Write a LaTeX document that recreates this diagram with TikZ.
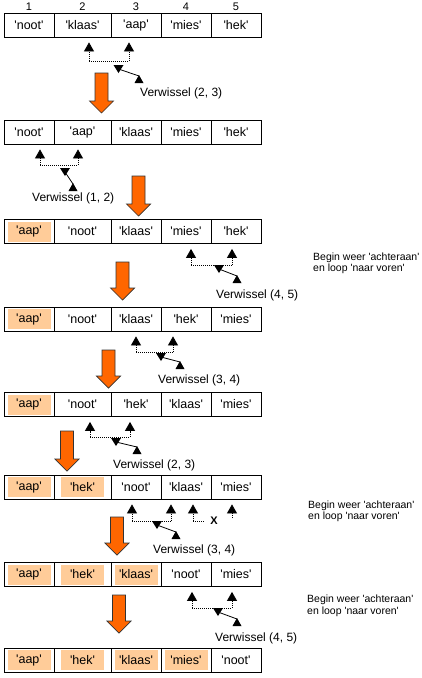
\documentclass[tikz,border=0pt]{standalone}
\usepackage{fontspec}
\setmainfont{Liberation Sans}[Ligatures=TeXOff]
\usetikzlibrary{arrows.meta, positioning}
\usepackage{xcolor}
\definecolor{peach}{RGB}{255,204,153}
\definecolor{swaporange}{RGB}{255,102,0}
\def\cellh{24}
\newcommand{\stepdown}[3]{%
  \draw[down arrow] (#1-6.5,#2) -- (#1+6.5,#2) -- (#1+6.5,#3-12) -- (#1+12,#3-12)
    -- (#1,#3) -- (#1-12,#3-12) -- (#1-6.5,#3-12) -- cycle;}

\begin{document}
\begin{tikzpicture}[x=1pt,y=-1pt]
    \tikzstyle{cell}=[draw=black, line width=0.8pt, minimum height=\cellh, inner sep=0pt, font=\fontsize{12.5}{14}\selectfont]
    \tikzstyle{colnum}=[inner sep=0pt, font=\fontsize{11}{13}\selectfont]
    \tikzstyle{swapline}=[dash pattern=on 1pt off 1pt, line width=0.8pt]
    \tikzstyle{swap tip}=[swapline, -{Triangle[length=9pt,width=10pt]}, shorten >=5pt]
    \tikzstyle{swap arrow}=[line width=0.8pt]
    \tikzstyle{verw}=[anchor=west, inner sep=0pt, font=\fontsize{12}{14}\selectfont]
    \tikzstyle{note}=[anchor=west, align=left, inner sep=0pt, font=\fontsize{10.5}{11.5}\selectfont]
    \tikzstyle{down arrow}=[fill=swaporange, draw=black!80, line width=0.7pt]

    \useasboundingbox (0,0) rectangle (422,678);

	% the rows, \n = cells already in place
	\foreach \r/\cy/\n/\words in {1/25/0/{noot,klaas,aap,mies,hek},
			2/132/0/{noot,aap,klaas,mies,hek},
			3/231.5/1/{aap,noot,klaas,mies,hek},
			4/319/1/{aap,noot,klaas,hek,mies},
			5/404.5/1/{aap,noot,hek,klaas,mies},
			6/487/2/{aap,hek,noot,klaas,mies},
			7/574.5/3/{aap,hek,klaas,noot,mies},
			8/660/4/{aap,hek,klaas,mies,noot}}{
		\foreach \w [count=\c] in \words {
			\pgfmathsetmacro\cx{{29,82.5,136,186,236}[\c-1]}
			\pgfmathsetmacro\cw{{50,57,50,50,50}[\c-1]}
			\ifnum\c>\n\else
				\fill[peach] (\cx-21.5,\cy-10) rectangle (\cx+21.5,\cy+10);
			\fi
			\node[cell, minimum width=\cw] (C\r-\c) at (\cx,\cy) {'\w'};
			}
		}

	\foreach \c in {1,...,5}
		\node[colnum, above=2pt of C1-\c] (N\c) {\c};

	\foreach \s/\r/\ca/\cb/\xa/\xb/\dy/\tx/\ty/\bx/\by/\lx/\ly in {
			1/1/2/3/89/129/61/118.5/69/139/79/140/93,
			2/2/1/2/40/78/165/65/172/73/187/32/198,
			3/3/4/5/191/232/265/219/269/237/279/216/295,
			4/4/3/4/136/173/352/161/357/180/365/158/380,
			5/5/2/3/90/130/437/116/442/137/450/113/465,
			6/6/3/4/132/171/521/157/525/176/535/153/550,
			7/7/4/5/192/232/608/218/612/237/622/215/638}{
		\coordinate (L\s) at (\xa,\dy);
		\coordinate (R\s) at (\xb,\dy);
		\draw[swapline] (L\s) -- (R\s);
		\draw[swap tip] (L\s) -- (L\s |- C\r-\ca.south);
		\draw[swap tip] (R\s) -- (R\s |- C\r-\cb.south);
		\coordinate (M\s) at (\tx,\ty);
		\coordinate (Q\s) at (\bx,\by-3);
		\draw[swap arrow] (M\s) -- (Q\s);
		\fill (\tx-5,\ty-4) -- (\tx+5,\ty-4) -- (\tx,\ty+4) -- cycle;
		\fill (\bx-4.5,\by+4) -- (\bx+4.5,\by+4) -- (\bx,\by-4) -- cycle;
		\node[verw] (V\s) at (\lx,\ly) {Verwissel (\ca, \cb)};
		}

	% (4, 5) in row 6 is not swapped
	\coordinate (XL) at (193,521);
	\coordinate (XM) at (204,521);
	\coordinate (XR) at (232,518);
	\draw[swapline] (XL) -- (XM);
	\draw[swap tip] (XL) -- (XL |- C6-4.south);
	\draw[swap tip] (XR) -- (XR |- C6-5.south);
	\node[inner sep=0pt, font=\bfseries\fontsize{11}{12}\selectfont] (XX) at (214,521) {X};

	\foreach \i/\x/\y in {1/313/263.5, 2/308/511.5, 3/307/606}
		\node[note] (B\i) at (\x,\y) {Begin weer 'achteraan'\\en loop 'naar voren'};

	\foreach \x/\t/\b in {101.5/73/113, 138.5/176/216, 122.5/262/300, 108.5/350/388,
			67/431/471, 117/517/555, 119/595/633}{
		\stepdown{\x}{\t}{\b}
		}

\end{tikzpicture}
\end{document}
